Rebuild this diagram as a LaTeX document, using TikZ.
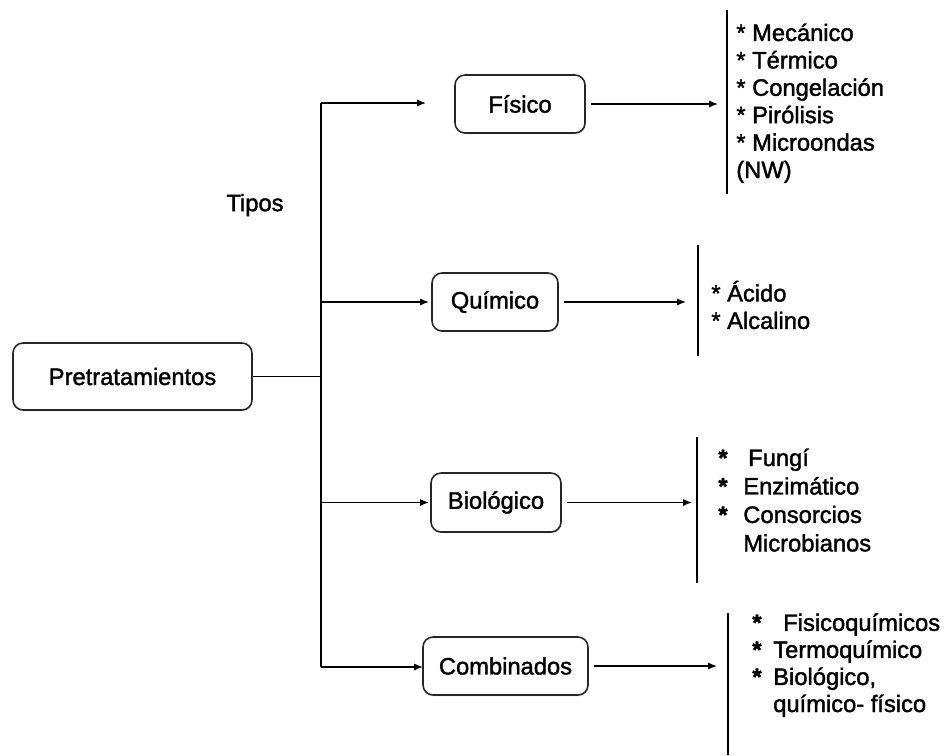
\documentclass[tikz,border=0pt]{standalone}
\usepackage{fontspec}
\setmainfont{Liberation Sans}
\newfontfamily\medfont{Liberation Sans}[FakeBold=1.6]
\usetikzlibrary{arrows.meta,shadows}
\begin{document}
\begin{tikzpicture}[x=0.02cm,y=-0.02cm,
  every node/.style={font=\medfont\fontsize{13.5}{15.6}\selectfont},
  box/.style={draw=black!85, line width=0.9pt, rounded corners=0.2cm, fill=white,
    inner sep=0pt, minimum height=1.16cm,
    drop shadow={shadow xshift=0.4pt, shadow yshift=-0.7pt, opacity=0.35}},
  link/.style={line width=0.75pt},
  arr/.style={link, -{Latex[length=5pt,width=4pt]}},
  bar/.style={line width=0.75pt},
  list/.style={align=left, inner sep=0pt, anchor=west}
]
\useasboundingbox (0,0) rectangle (945,755);

% main boxes
\node[box, minimum width=4.78cm, minimum height=1.34cm] (pre) at (132.5,376.5) {Pretratamientos};
\node[box, minimum width=2.60cm] (fis) at (520,104) {Físico};
\node[box, minimum width=2.52cm] (qui) at (495,302) {Químico};
\node[box, minimum width=2.60cm, minimum height=1.18cm] (bio) at (496,502.5) {Biológico};
\node[box, minimum width=3.30cm] (com) at (505.5,666) {Combinados};

\node (tipos) at (255,205) {Tipos};

% trunk of the tree
\coordinate (ttop) at (321,103);
\coordinate (tbot) at (321,667);
\coordinate (tqui) at (321,302);
\coordinate (tbio) at (321,502.5);
\draw[link] (pre.east) -- (pre.east -| ttop);
\draw[link] (ttop) -- (tbot);

% arrows into the boxes
\coordinate (infis) at (426,103);
\coordinate (inqui) at (429,302);
\coordinate (inbio) at (429,502.5);
\coordinate (incom) at (423,667);
\draw[arr] (ttop) -- (infis);
\draw[arr] (tqui) -- (inqui);
\draw[arr] (tbio) -- (inbio);
\draw[arr] (tbot) -- (incom);

% arrows out of the boxes
\coordinate (outfis) at (718,104);
\coordinate (outqui) at (686,302);
\coordinate (outbio) at (692,502.5);
\coordinate (outcom) at (717,666);
\draw[arr] ([xshift=3pt]fis.east) -- (outfis);
\draw[arr] ([xshift=3pt]qui.east) -- (outqui);
\draw[arr] ([xshift=3pt]bio.east) -- (outbio);
\draw[arr] ([xshift=3pt]com.east) -- (outcom);

% brackets
\coordinate (bf1) at (727,10);  \coordinate (bf2) at (727,194);
\coordinate (bq1) at (698,245); \coordinate (bq2) at (698,356);
\coordinate (bb1) at (697,437); \coordinate (bb2) at (697,583);
\coordinate (bc1) at (728,613); \coordinate (bc2) at (728,755);
\draw[bar] (bf1) -- (bf2);
\draw[bar] (bq1) -- (bq2);
\draw[bar] (bb1) -- (bb2);
\draw[bar] (bc1) -- (bc2);

% lists of methods
\node[list] (lfis) at (736,104) {\strut* Mecánico\\* Térmico\\* Congelación\\* Pirólisis\\* Microondas\\(NW)\strut};
\node[list] (lqui) at (711,309) {\strut* Ácido\\* Alcalino\strut};
\node[list, font=\medfont\fontsize{13.5}{16.2}\selectfont] (lbio) at (718,503)
  {\strut\makebox[14.2pt][l]{\bfseries*}\hspace{2.8pt}Fungí\\
   \makebox[14.2pt][l]{\bfseries*}Enzimático\\
   \makebox[14.2pt][l]{\bfseries*}Consorcios\\
   \hspace{14.2pt}Microbianos\strut};
\node[list, font=\medfont\fontsize{13.5}{15.4}\selectfont] (lcom) at (752,666)
  {\strut\makebox[11.9pt][l]{\bfseries*}\hspace{5.7pt}Fisicoquímicos\\
   \makebox[11.9pt][l]{\bfseries*}Termoquímico\\
   \makebox[11.9pt][l]{\bfseries*}Biológico,\\
   \hspace{11.9pt}químico- físico\strut};
\end{tikzpicture}
\end{document}
